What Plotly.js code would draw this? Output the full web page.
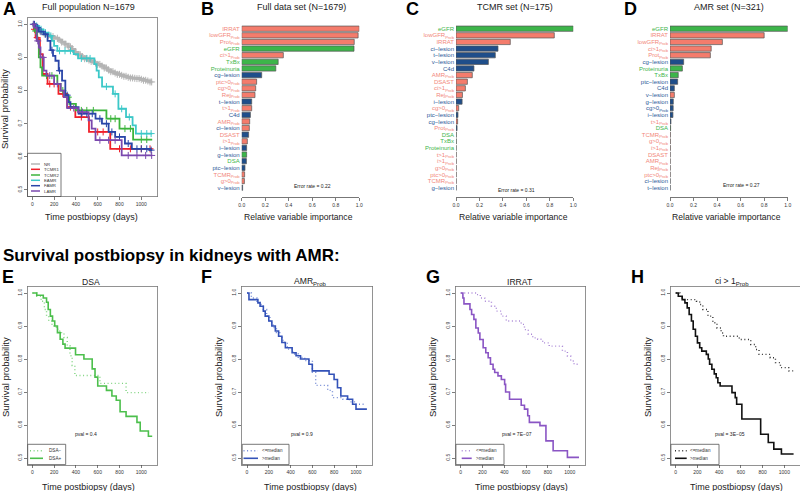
<!DOCTYPE html>
<html><head><meta charset="utf-8">
<script src="https://cdn.plot.ly/plotly-3.0.1.min.js"></script>
<style>html,body{margin:0;padding:0;background:#fff}#chart{width:800px;height:491px}</style>
</head><body><div id="chart"></div>
<script>
// ================= DATA =================
// Panel A: Kaplan-Meier curves, full population
const A_groups = ['NR','TCMR1','TCMR2','EAMR','FAMR','LAMR'];
const NR_t = [0,20,40,60,80,100,130,160,200,240,270,300,330,360,390,420,450,480,510,540,570,600,630,660,690,720,750,780,810,840,870,900,930,960,990,1020,1050,1080,1100];
const NR_s = [1,0.993,0.987,0.98,0.975,0.971,0.967,0.963,0.958,0.952,0.946,0.94,0.932,0.924,0.915,0.908,0.902,0.896,0.892,0.888,0.883,0.879,0.874,0.868,0.862,0.857,0.853,0.849,0.846,0.843,0.84,0.838,0.837,0.836,0.834,0.831,0.829,0.826,0.826];
const NR_cens = [30,70,110,150,190,230,270,300,330,350,370,400,420,440,460,480,500,520,540,560,580,600,620,640,660,680,700,720,740,760,780,800,820,840,860,880,900,920,940,960,980,1000,1020,1040,1060,1080,1095];
const TCMR1_t = [0,15,30,55,70,95,140,240,320,395,520,715,1100];
const TCMR1_s = [1,0.985,0.96,0.955,0.91,0.85,0.82,0.79,0.75,0.72,0.675,0.624,0.624];
const TCMR1_cens = [20,45,160,200,280,350,450,600,650,800,900,1000,1080];
const TCMR2_t = [0,20,45,60,75,90,230,260,300,340,400,680,800,925,1100];
const TCMR2_s = [1,0.98,0.95,0.9,0.87,0.845,0.82,0.8,0.78,0.76,0.74,0.715,0.685,0.652,0.652];
const TCMR2_cens = [30,130,180,280,330,450,500,560,720,760,850,900,1000,1050];
const EAMR_t = [0,30,60,100,150,180,200,230,380,420,570,590,610,640,740,790,860,920,950,1100];
const EAMR_s = [1,0.995,0.985,0.975,0.965,0.95,0.935,0.92,0.91,0.897,0.88,0.86,0.84,0.812,0.79,0.745,0.72,0.695,0.67,0.67];
const EAMR_cens = [10,40,80,120,170,250,300,350,450,500,530,680,760,820,890,1000,1050,1090];
const FAMR_t = [0,30,60,105,140,166,190,212,242,273,303,330,350,425,580,639,700,760,850,913,1080,1100];
const FAMR_s = [1,0.99,0.978,0.97,0.95,0.922,0.905,0.89,0.86,0.83,0.786,0.765,0.75,0.73,0.715,0.7,0.675,0.66,0.64,0.624,0.62,0.62];
const FAMR_cens = [20,50,80,120,180,250,320,450,500,550,620,680,730,800,880,960,1000,1050,1090];
const LAMR_t = [0,20,40,60,75,105,130,200,260,290,320,420,516,545,580,820,1100];
const LAMR_s = [1,0.99,0.95,0.93,0.9,0.86,0.845,0.82,0.8,0.78,0.747,0.735,0.71,0.685,0.65,0.604,0.604];
const LAMR_cens = [10,50,100,160,230,380,460,620,700,760,880,960,1040,1095];

// Panels B-D: relative variable importance
const B_labels = ['IRRAT','lowGFR<sub>Prob</sub>','Prot<sub>Prob</sub>','eGFR','ci&gt;1<sub>Prob</sub>','TxBx','Proteinuria','cg−lesion','ptc&gt;0<sub>Prob</sub>','cg&gt;0<sub>Prob</sub>','Rej<sub>Prob</sub>','t−lesion','t&gt;1<sub>Prob</sub>','C4d','AMR<sub>Prob</sub>','ci−lesion','DSAST','i&gt;1<sub>Prob</sub>','i−lesion','g−lesion','DSA','ptc−lesion','TCMR<sub>Prob</sub>','g&gt;0<sub>Prob</sub>','v−lesion'];
const B_values = [1.0,0.99,0.957,0.955,0.354,0.31,0.29,0.17,0.127,0.119,0.113,0.085,0.085,0.074,0.068,0.065,0.059,0.048,0.042,0.042,0.04,0.028,0.025,0.023,0.008];
const B_labelGroup = ['mol','mol','mol','clin','mol','clin','clin','les','mol','mol','mol','les','mol','les','mol','les','mol','mol','les','les','clin','les','mol','mol','les'];
const B_barGroup = ['mol','mol','mol','clin','mol','clin','clin','les','mol','mol','mol','les','mol','les','mol','mol','les','mol','les','clin','les','les','mol','mol','les'];

const C_labels = ['eGFR','lowGFR<sub>Prob</sub>','IRRAT','ci−lesion','t−lesion','v−lesion','C4d','AMR<sub>Prob</sub>','DSAST','ci&gt;1<sub>Prob</sub>','Rej<sub>Prob</sub>','i−lesion','cg&gt;0<sub>Prob</sub>','ptc−lesion','cg−lesion','Prot<sub>Prob</sub>','DSA','TxBx','Proteinuria','t&gt;1<sub>Prob</sub>','i&gt;1<sub>Prob</sub>','g&gt;0<sub>Prob</sub>','ptc&gt;0<sub>Prob</sub>','TCMR<sub>Prob</sub>','g−lesion'];
const C_values = [1.0,0.838,0.463,0.358,0.335,0.276,0.153,0.139,0.097,0.08,0.055,0.052,0.023,0.017,0.014,0.009,0.002,0.002,0.001,0.001,0.001,0.001,0.001,0.001,0.001];
const C_labelGroup = ['clin','mol','mol','les','les','les','les','mol','mol','mol','mol','les','mol','les','les','mol','clin','clin','clin','mol','mol','mol','mol','mol','les'];
const C_barGroup = ['clin','mol','mol','les','les','les','les','mol','mol','mol','mol','les','mol','les','mol','les','clin','clin','clin','mol','mol','mol','mol','mol','les'];

const D_labels = ['eGFR','IRRAT','lowGFR<sub>Prob</sub>','ci&gt;1<sub>Prob</sub>','Prot<sub>Prob</sub>','cg−lesion','Proteinuria','TxBx','ptc−lesion','C4d','v−lesion','g−lesion','cg&gt;0<sub>Prob</sub>','i−lesion','t&gt;1<sub>Prob</sub>','DSA','TCMR<sub>Prob</sub>','g&gt;0<sub>Prob</sub>','i&gt;1<sub>Prob</sub>','DSAST','AMR<sub>Prob</sub>','Rej<sub>Prob</sub>','ptc&gt;0<sub>Prob</sub>','ci−lesion','t−lesion'];
const D_values = [1.0,0.80,0.445,0.35,0.343,0.116,0.105,0.07,0.065,0.037,0.037,0.028,0.027,0.025,0.008,0.005,0.002,0.002,0.002,0.001,0.001,0.001,0.001,0.001,0.001];
const D_labelGroup = ['clin','mol','mol','mol','mol','les','clin','clin','les','les','les','les','les','les','mol','clin','mol','mol','mol','mol','mol','mol','mol','les','les'];
const D_barGroup = ['clin','mol','mol','mol','mol','les','clin','clin','les','les','mol','les','les','les','les','clin','mol','mol','mol','mol','mol','mol','mol','les','les'];
const errorRates = ['0.22','0.31','0.27'];
const barTitles = ['Full data set (N=1679)','TCMR set (N=175)','AMR set (N=321)'];

// Panels E-H: survival in kidneys with AMR
const DSAneg_t = [0,40,80,110,130,150,180,220,250,290,320,345,365,390,620,860,1070];
const DSAneg_s = [1,0.99,0.975,0.95,0.93,0.915,0.9,0.89,0.88,0.865,0.84,0.81,0.78,0.75,0.726,0.698,0.698];
const DSApos_t = [0,40,100,130,145,165,185,205,230,255,280,300,396,473,549,575,600,680,730,770,805,860,960,990,1065,1100];
const DSApos_s = [1,0.993,0.985,0.972,0.95,0.93,0.915,0.9,0.88,0.86,0.845,0.833,0.813,0.8,0.77,0.745,0.718,0.705,0.688,0.675,0.64,0.626,0.608,0.582,0.566,0.566];
const AMRlo_t = [0,40,90,120,150,180,210,240,270,300,330,370,420,470,530,600,630,740,784,880,940,1000,1090];
const AMRlo_s = [1,0.985,0.975,0.965,0.95,0.93,0.91,0.895,0.88,0.865,0.85,0.83,0.815,0.805,0.795,0.76,0.72,0.705,0.683,0.678,0.67,0.663,0.663];
const AMRhi_t = [0,18,100,120,150,167,200,228,260,290,320,352,414,450,491,568,599,753,799,830,861,923,969,1000,1100];
const AMRhi_s = [1,0.98,0.97,0.96,0.945,0.93,0.915,0.9,0.885,0.869,0.85,0.834,0.819,0.81,0.8,0.784,0.764,0.754,0.738,0.713,0.688,0.678,0.663,0.648,0.648];
const IRRlo_t = [0,145,180,220,282,327,373,418,555,585,620,661,706,752,812,933,979,1009,1040,1090];
const IRRlo_s = [1,0.995,0.985,0.975,0.96,0.945,0.93,0.915,0.905,0.889,0.875,0.864,0.86,0.849,0.839,0.824,0.809,0.794,0.784,0.784];
const IRRhi_t = [0,20,30,85,100,121,139,161,176,206,230,252,273,297,312,342,373,403,412,448,555,585,615,630,727,782,848,979,1085];
const IRRhi_s = [1,0.985,0.967,0.95,0.935,0.92,0.894,0.879,0.859,0.834,0.819,0.804,0.784,0.769,0.759,0.749,0.738,0.723,0.7,0.678,0.66,0.648,0.628,0.608,0.598,0.552,0.522,0.502,0.502];
const CIlo_t = [0,39,60,191,221,250,297,342,380,418,440,585,691,736,767,870,918,964,1040,1085];
const CIlo_s = [1,0.985,0.98,0.975,0.965,0.95,0.93,0.91,0.894,0.879,0.869,0.859,0.844,0.829,0.814,0.804,0.789,0.774,0.764,0.764];
const CIhi_t = [0,24,60,85,106,124,145,161,182,200,221,240,282,300,312,333,355,373,388,409,518,548,561,609,782,852,903,973,1085];
const CIhi_s = [1,0.99,0.98,0.97,0.955,0.935,0.915,0.89,0.869,0.849,0.834,0.824,0.814,0.8,0.784,0.769,0.755,0.743,0.728,0.718,0.698,0.683,0.663,0.618,0.572,0.547,0.527,0.512,0.512];
const bottomTitles = ['DSA','AMR<sub>Prob</sub>','IRRAT','ci &gt; 1<sub>Prob</sub>'];
const bottomLegends = [['DSA−','DSA+'],['&lt;=median','&gt;median'],['&lt;=median','&gt;median'],['&lt;=median','&gt;median']];
const pvals = ['0.4','0.9','7E−07','3E−05'];

const timeTicks = [0,200,400,600,800,1000];
const survTicks = [0.5,0.6,0.7,0.8,0.9,1.0];
const impTicks = [0,0.2,0.4,0.6,0.8,1.0];

// ================= STYLE / LAYOUT =================
const W = 800, H = 491;
const FONT = 'Liberation Sans, Arial, Helvetica, sans-serif';
const PX = x => x / W, PY = y => 1 - y / H;
const A_colors = {NR:'#b4b4b4',TCMR1:'#f0202a',TCMR2:'#3cb43c',EAMR:'#3cc8c8',FAMR:'#2a46a8',LAMR:'#7a48ae'};
const A_widths = {NR:3,TCMR1:1.8,TCMR2:1.8,EAMR:1.8,FAMR:1.8,LAMR:1.8};
const BAR_COLORS = {mol:'#f47c6c',clin:'#3db54a',les:'#1f4e8a'};
const LABEL_COLORS = {mol:'#f2877a',clin:'#3db54a',les:'#2d5a99'};
const bottomColors = ['#4cbf4c','#3352b8','#8a55c4','#111111'];
const dotColors = ['#7fd47f','#6f86d4','#a985d6','#333333'];
const DOT = '1px,2.6px';

const survAt = (t, ts, ss) => { let s = ss[0]; for (let i = 0; i < ts.length; i++) if (ts[i] <= t) s = ss[i]; return s; };

const traces = [];
const A_data = {NR:[NR_t,NR_s,NR_cens],TCMR1:[TCMR1_t,TCMR1_s,TCMR1_cens],TCMR2:[TCMR2_t,TCMR2_s,TCMR2_cens],EAMR:[EAMR_t,EAMR_s,EAMR_cens],FAMR:[FAMR_t,FAMR_s,FAMR_cens],LAMR:[LAMR_t,LAMR_s,LAMR_cens]};
A_groups.forEach(g => {
  const [t, s, c] = A_data[g];
  traces.push({type:'scatter',mode:'lines',x:t,y:s,line:{shape:'hv',color:A_colors[g],width:A_widths[g]},xaxis:'x',yaxis:'y',hoverinfo:'skip'});
  traces.push({type:'scatter',mode:'markers',x:c,y:c.map(v=>survAt(v,t,s)),marker:{symbol:'cross-thin',size:5,line:{width:1,color:A_colors[g]},color:A_colors[g]},xaxis:'x',yaxis:'y',hoverinfo:'skip'});
});

const barSets = [[B_labels,B_values,B_labelGroup,B_barGroup],[C_labels,C_values,C_labelGroup,C_barGroup],[D_labels,D_values,D_labelGroup,D_barGroup]];
barSets.forEach((set, k) => {
  const [lab, val, lg, bg] = set;
  traces.push({type:'bar',orientation:'h',x:val,y:lab.map((_,i)=>i),width:0.8,
    marker:{color:bg.map(g=>BAR_COLORS[g]),line:{color:'#555',width:0.7}},
    xaxis:'x'+(k+2),yaxis:'y'+(k+2),hoverinfo:'skip'});
});

const bottomData = [[DSAneg_t,DSAneg_s,DSApos_t,DSApos_s],[AMRlo_t,AMRlo_s,AMRhi_t,AMRhi_s],[IRRlo_t,IRRlo_s,IRRhi_t,IRRhi_s],[CIlo_t,CIlo_s,CIhi_t,CIhi_s]];
bottomData.forEach((d, k) => {
  const ax = k + 5;
  traces.push({type:'scatter',mode:'lines',x:d[0],y:d[1],line:{shape:'hv',color:dotColors[k],width:1.4,dash:DOT},xaxis:'x'+ax,yaxis:'y'+ax,hoverinfo:'skip'});
  traces.push({type:'scatter',mode:'lines',x:d[2],y:d[3],line:{shape:'hv',color:bottomColors[k],width:1.6},xaxis:'x'+ax,yaxis:'y'+ax,hoverinfo:'skip'});
});

const layout = {width:W,height:H,margin:{l:0,r:0,t:0,b:0},paper_bgcolor:'#fff',plot_bgcolor:'rgba(0,0,0,0)',showlegend:false,
  font:{family:FONT,color:'#222'},annotations:[],shapes:[]};

function kmAxes(n, x0, x1, y0, y1) {
  const xa = {domain:[PX(x0),PX(x1)],range:[-44,1144],tickvals:timeTicks,ticktext:timeTicks.map(String),ticks:'outside',ticklen:3,tickwidth:0.7,tickcolor:'#444',
    tickfont:{size:5,family:FONT,color:'#333'},showline:true,mirror:true,linecolor:'#777',linewidth:0.8,showgrid:false,zeroline:false,anchor:'y'+(n===1?'':n),fixedrange:true};
  const ya = {domain:[PY(y1),PY(y0)],range:[0.48,1.02],tickvals:survTicks,ticktext:survTicks.map(v=>v.toFixed(1)),ticks:'outside',ticklen:3,tickwidth:0.7,tickcolor:'#444',tickangle:-90,
    tickfont:{size:5,family:FONT,color:'#333'},showline:true,mirror:true,linecolor:'#777',linewidth:0.8,showgrid:false,zeroline:false,anchor:'x'+(n===1?'':n),fixedrange:true};
  layout['xaxis'+(n===1?'':n)] = xa; layout['yaxis'+(n===1?'':n)] = ya;
}
function barAxes(n, x0, x1, labels, lgroup) {
  const xa = {domain:[PX(x0),PX(x1)],range:[0,1.0],tickvals:impTicks,ticktext:impTicks.map(v=>v.toFixed(1)),ticks:'outside',ticklen:3,tickwidth:0.7,tickcolor:'#444',
    tickfont:{size:5,family:FONT,color:'#333'},showline:true,linecolor:'#555',linewidth:0.8,showgrid:false,zeroline:false,anchor:'y'+n,fixedrange:true};
  const ya = {domain:[PY(197),PY(22)],range:[25.404,-1.011],tickvals:labels.map((_,i)=>i),
    ticktext:labels.map((l,i)=>'<span style="color:'+LABEL_COLORS[lgroup[i]]+'">'+l+'</span>'),ticks:'',
    tickfont:{size:6,family:FONT},ticklabelstandoff:1,showline:false,showgrid:false,zeroline:false,anchor:'x'+n,fixedrange:true};
  layout['xaxis'+n] = xa; layout['yaxis'+n] = ya;
}
kmAxes(1, 27.5, 157, 17.7, 196.5);
barAxes(2, 241.7, 359.3, B_labels, B_labelGroup);
barAxes(3, 456, 573.3, C_labels, C_labelGroup);
barAxes(4, 670, 787.7, D_labels, D_labelGroup);
const bottomBoxes = [[27.6,157],[242.2,371.7],[455.9,585.4],[670.9,800]];
bottomBoxes.forEach((b,k)=>kmAxes(k+5, b[0], b[1], 286.4, 464.6));

function ann(text, x, y, size, o) {
  o = o || {};
  layout.annotations.push({text, x:PX(x), y:PY(y), xref:'paper', yref:'paper', showarrow:false,
    xanchor:o.xa||'center', yanchor:o.ya||'middle', textangle:o.angle||0, borderpad:0,
    font:{family:FONT,size,color:o.color||'#222'}});
}
// panel letters
[['A',2,9],['B',200,9],['C',405,9],['D',623,9],['E',1,277],['F',200,277],['G',425,277],['H',630,277]].forEach(l=>ann('<b>'+l[0]+'</b>',l[1],l[2],18,{xa:'left',color:'#000'}));
ann('<b>Survival postbiopsy in kidneys with AMR:</b>',2,255,17,{xa:'left',color:'#000'});
// panel A text
ann('Full population N=1679',88,6.5,9);
ann('Time postbiopsy (days)',91,217,9);
ann('Survival probability',5,109,9.5,{angle:-90});
// bar panel text
const barCenters = [[301,298.5,312,186],[515,513,516,190],[729,726.5,741,185]];
barCenters.forEach((c,k)=>{
  ann(barTitles[k],c[0],6.5,9);
  ann('Relative variable importance',c[1],217,8.6);
  ann('Error rate = '+errorRates[k],c[2],c[3],5);
});
// bottom panel text
const bottomTitleX = [90.5,310,519.5,731.7];
const yTitleX = [5,218,432,647];
const xTitleX = [88,310,521.7,736];
const pvalX = [86,302,517,730];
bottomTitles.forEach((t,k)=>{
  ann(t,bottomTitleX[k],281.5,8.6);
  ann('Survival probability',yTitleX[k],377,9.5,{angle:-90});
  ann('Time postbiopsy (days)',xTitleX[k],486.5,9);
  ann('pval = '+pvals[k],pvalX[k],434,5);
});
// legends
function box(x0,y0,x1,y1){layout.shapes.push({type:'rect',xref:'paper',yref:'paper',x0:PX(x0),x1:PX(x1),y0:PY(y1),y1:PY(y0),line:{color:'#555',width:0.8}});}
function seg(x0,x1,y,color,width,dash){layout.shapes.push({type:'line',xref:'paper',yref:'paper',x0:PX(x0),x1:PX(x1),y0:PY(y),y1:PY(y),line:{color,width,dash:dash||'solid'}});}
box(27.5,153.3,61,196.5);
const A_legY = [164,169.3,175,180.3,185.7,191];
A_groups.forEach((g,i)=>{ seg(31,40,A_legY[i],A_colors[g],1.5); ann(g,43.3,A_legY[i],4.3,{xa:'left',color:'#333'}); });
const legBoxes = [[27.7,65.7,30,43,47.7],[242.2,289,243.5,258,260.7],[455.9,504,461.7,471.7,475],[670.9,719,675,686.7,689.3]];
legBoxes.forEach((b,k)=>{
  box(b[0],444.3,b[1],464.6);
  seg(b[2],b[3],450.7,dotColors[k],1.4,DOT); ann(bottomLegends[k][0],b[4],450.7,4.6,{xa:'left',color:'#333'});
  seg(b[2],b[3],458.3,bottomColors[k],1.6); ann(bottomLegends[k][1],b[4],458.3,4.6,{xa:'left',color:'#333'});
});

Plotly.newPlot('chart', traces, layout, {staticPlot:true,displayModeBar:false});
</script>
</body></html>
